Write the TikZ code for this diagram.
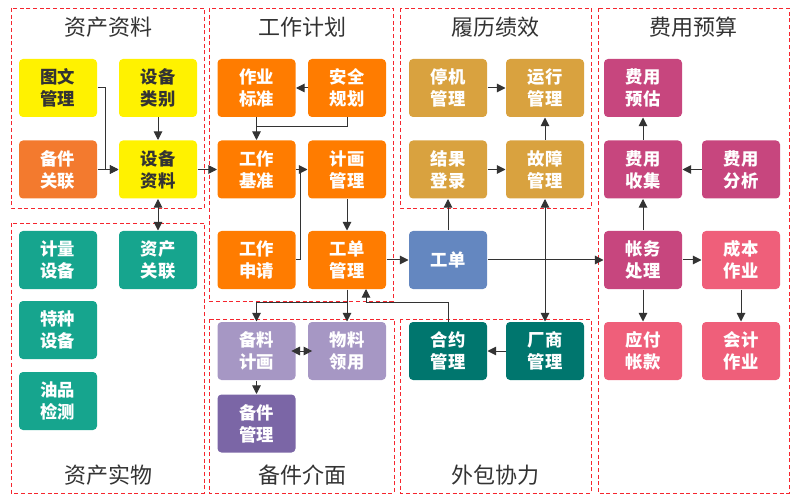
\documentclass[tikz,border=0pt]{standalone}
\usepackage{fontspec}
\newfontfamily\cjk{Noto Sans CJK SC}
\usetikzlibrary{arrows.meta}
\definecolor{cyel}{HTML}{FFF200}
\definecolor{corg}{HTML}{FF7C00}
\definecolor{corg2}{HTML}{F37A2E}
\definecolor{cteal}{HTML}{16A58E}
\definecolor{cdteal}{HTML}{00766E}
\definecolor{cgold}{HTML}{D9A23F}
\definecolor{cblue}{HTML}{6487C0}
\definecolor{cmag}{HTML}{C7467E}
\definecolor{cpink}{HTML}{EF5F7A}
\definecolor{clav}{HTML}{A697C4}
\definecolor{cpur}{HTML}{7B66A6}
\definecolor{cline}{HTML}{333333}
\definecolor{cgrp}{HTML}{F5262E}

\begin{document}
\begin{tikzpicture}[x=0.75pt,y=-0.75pt,>={Triangle[length=6.5pt,width=6.5pt]},
    box/.style={fill=#1,rounded corners=3pt,minimum width=58.5pt,minimum height=43.5pt,
        inner sep=0pt,text=white,align=center,font=\cjk\bfseries\fontsize{13}{16.5}\selectfont},
    grp/.style={cgrp,dashed,dash pattern=on 3pt off 2pt,line width=0.6pt},
    title/.style={text=cline,font=\cjk\fontsize{16.5}{18}\selectfont},
    every path/.style={cline,line width=0.75pt}]
  \useasboundingbox (0,0) rectangle (800,499);
  % groups
  \draw[grp] (11,8) rectangle (204,208);
  \draw[grp] (11,223) rectangle (204,493);
  \draw[grp] (209,8) rectangle (393,301);
  \draw[grp] (209,319) rectangle (394,493);
  \draw[grp] (400,8) rectangle (591,208);
  \draw[grp] (400,319) rectangle (591,493);
  \draw[grp] (598,8) rectangle (789,493);
  \node[title] (t1) at (108,27) {资产资料};
  \node[title] (t2) at (302,27) {工作计划};
  \node[title] (t3) at (495,27) {履历绩效};
  \node[title] (t4) at (693,27) {费用预算};
  \node[title] (t5) at (108,475) {资产实物};
  \node[title] (t6) at (302,475) {备件介面};
  \node[title] (t7) at (495,475) {外包协力};
  % 资产资料 / 资产实物
  \node[box=cyel,text=cline] (tuwen) at (58,88) {图文\\管理};
  \node[box=cyel,text=cline] (leibie) at (158,88) {设备\\类别};
  \node[box=corg2] (beijian) at (58,169.5) {备件\\关联};
  \node[box=cyel,text=cline] (ziliao) at (158,169.5) {设备\\资料};
  \node[box=cteal] (jiliang) at (58,260) {计量\\设备};
  \node[box=cteal] (tezhong) at (58,330) {特种\\设备};
  \node[box=cteal] (youpin) at (58,401) {油品\\检测};
  \node[box=cteal] (guanlian) at (158,260) {资产\\关联};
  % 工作计划
  \node[box=corg] (zuoye) at (256.5,88) {作业\\标准};
  \node[box=corg] (anquan) at (347,88) {安全\\规划};
  \node[box=corg] (jizhun) at (256.5,169.5) {工作\\基准};
  \node[box=corg] (jihua) at (347,169.5) {计画\\管理};
  \node[box=corg] (shenqing) at (256.5,260) {工作\\申请};
  \node[box=corg] (gdguanli) at (347,260) {工单\\管理};
  % 备件介面
  \node[box=clav] (beiliao) at (256.5,351) {备料\\计画};
  \node[box=clav] (wuliao) at (347,351) {物料\\领用};
  \node[box=cpur] (bjguanli) at (256.5,423.5) {备件\\管理};
  % 履历绩效
  \node[box=cgold] (tingji) at (448,88) {停机\\管理};
  \node[box=cgold] (yunxing) at (545,88) {运行\\管理};
  \node[box=cgold] (jieguo) at (448,169.5) {结果\\登录};
  \node[box=cgold] (guzhang) at (545,169.5) {故障\\管理};
  \node[box=cblue] (gongdan) at (448,260) {工单};
  % 外包协力
  \node[box=cdteal] (heyue) at (448,351) {合约\\管理};
  \node[box=cdteal] (changshang) at (545,351) {厂商\\管理};
  % 费用预算
  \node[box=cmag] (yugu) at (643,88) {费用\\预估};
  \node[box=cmag] (shouji) at (643,169.5) {费用\\收集};
  \node[box=cmag] (fenxi) at (741,169.5) {费用\\分析};
  \node[box=cmag] (zhangwu) at (643,260) {帐务\\处理};
  \node[box=cpink] (chengben) at (741,260) {成本\\作业};
  \node[box=cpink] (yingfu) at (643,351) {应付\\帐款};
  \node[box=cpink] (kuaiji) at (741,351) {会计\\作业};
  % connectors
  \coordinate (m1) at (256.5,127);
  \coordinate (m2) at (300,169.5);
  \coordinate (m3) at (347,302);
  \coordinate (m4) at (366,302);
  \coordinate (m5) at (366,289);
  \draw[->] (tuwen.east) -- ++(8,0) |- (ziliao.west);
  \draw[->] (beijian) -- (ziliao);
  \draw[->] (leibie) -- (ziliao);
  \draw[<->] (ziliao) -- (guanlian);
  \draw[->] (ziliao) -- (jizhun);
  \draw[->] (anquan) -- (zuoye);
  \draw (anquan.south) |- (m1);
  \draw[->] (zuoye) -- (jizhun);
  \draw[->] (jizhun) -- (jihua);
  \draw (shenqing.east) -| (m2);
  \draw[->] (jihua) -- (gdguanli);
  \draw[->] (gdguanli) -- (gongdan);
  \draw[->] (gdguanli) -- (wuliao);
  \draw[->] (m3) -| (beiliao.north);
  \draw[->] (heyue.north) |- (m4) -- (m5);
  \draw[<->,shorten <=-3.5pt,shorten >=-3.5pt] (beiliao) -- (wuliao);
  \draw[->] (beiliao) -- (bjguanli);
  \draw[->] (tingji) -- (yunxing);
  \draw[->] (jieguo) -- (guzhang);
  \draw[->] (guzhang) -- (yunxing);
  \draw[->] (gongdan) -- (jieguo);
  \draw[->] (gongdan) -- (zhangwu);
  \draw[<->] (guzhang) -- (changshang);
  \draw[->] (changshang) -- (heyue);
  \draw[->] (shouji) -- (yugu);
  \draw[->] (fenxi) -- (shouji);
  \draw[->] (zhangwu) -- (shouji);
  \draw[->] (zhangwu) -- (chengben);
  \draw[->] (zhangwu) -- (yingfu);
  \draw[->] (chengben) -- (kuaiji);
\end{tikzpicture}
\end{document}
